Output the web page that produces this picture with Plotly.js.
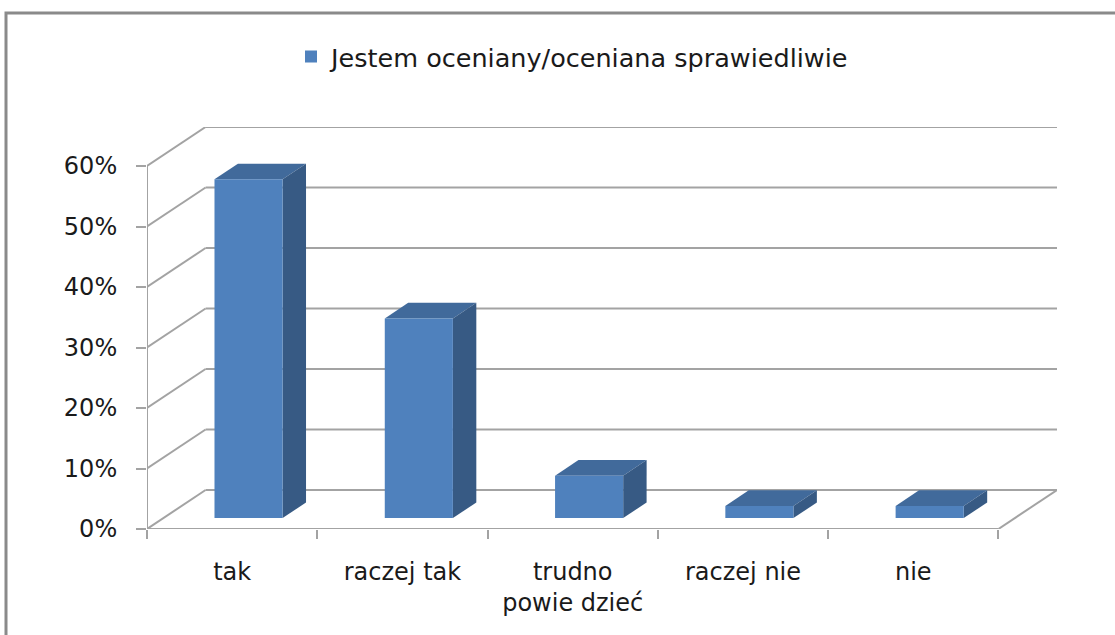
<!DOCTYPE html>
<html>
<head>
<meta charset="utf-8">
<script src="https://cdn.plot.ly/plotly-3.0.1.min.js"></script>
<style>html,body{margin:0;padding:0;background:#fff;}#chart{width:1115px;height:635px;}</style>
</head>
<body>
<div id="chart"></div>
<script>
// ---- data ----
const categories = ['tak', 'raczej tak', 'trudno<br>powie dzieć', 'raczej nie', 'nie'];
const values = [56, 33, 7, 2, 2];
const yTickValues = [0, 10, 20, 30, 40, 50, 60];
const yTickLabels = ['0%', '10%', '20%', '30%', '40%', '50%', '60%'];
const seriesName = 'Jestem oceniany/oceniana sprawiedliwie';

// ---- 3D look parameters (in axis units) ----
const WALL_DX = 0.344;   // depth of floor along x (category units)
const WALL_DY = 6.45;    // depth of floor along y (percent units)
const FRONT = 0.28;      // fraction of depth where bar front face sits
const BAR_DEPTH = 0.4;   // fraction of depth taken by the bar
const BAR_W = 0.4;       // bar width in category units
const Y_MAX = 60;

const n = categories.length;
const xRange = [-0.5, n - 0.5 + WALL_DX];
const yRange = [0, Y_MAX + WALL_DY];
const x2Range = [xRange[0] - FRONT * WALL_DX, xRange[1] - FRONT * WALL_DX];
const y2Range = [yRange[0] - FRONT * WALL_DY, yRange[1] - FRONT * WALL_DY];

const gridColor = '#a3a3a3';
const shapes = [];
// back-wall gridlines and left-wall diagonals
yTickValues.forEach(v => {
  shapes.push({type: 'line', xref: 'x', yref: 'y', layer: 'below',
    x0: -0.5 + WALL_DX, x1: n - 0.5 + WALL_DX, y0: v + WALL_DY, y1: v + WALL_DY,
    line: {color: gridColor, width: 2}});
  shapes.push({type: 'line', xref: 'x', yref: 'y', layer: 'below',
    x0: -0.5, x1: -0.5 + WALL_DX, y0: v, y1: v + WALL_DY,
    line: {color: gridColor, width: 2}});
});
// front value axis line
shapes.push({type: 'line', xref: 'x', yref: 'y', layer: 'below',
  x0: -0.5, x1: -0.5, y0: 0, y1: Y_MAX, line: {color: gridColor, width: 2}});
// floor front edge and right diagonal
shapes.push({type: 'line', xref: 'x', yref: 'y', layer: 'below',
  x0: -0.5, x1: n - 0.5, y0: 0, y1: 0, line: {color: gridColor, width: 2}});
shapes.push({type: 'line', xref: 'x', yref: 'y', layer: 'below',
  x0: n - 0.5, x1: n - 0.5 + WALL_DX, y0: 0, y1: WALL_DY, line: {color: gridColor, width: 2}});

// bar top and side faces
const bdx = BAR_DEPTH * WALL_DX, bdy = BAR_DEPTH * WALL_DY;
values.forEach((v, i) => {
  const l = i - BAR_W / 2, r = i + BAR_W / 2;
  shapes.push({type: 'path', xref: 'x2', yref: 'y2', layer: 'below',
    path: `M${l},${v} L${l + bdx},${v + bdy} L${r + bdx},${v + bdy} L${r},${v} Z`,
    fillcolor: '#416a9b', line: {width: 0}});
  shapes.push({type: 'path', xref: 'x2', yref: 'y2', layer: 'below',
    path: `M${r},0 L${r},${v} L${r + bdx},${v + bdy} L${r + bdx},${bdy} Z`,
    fillcolor: '#375a84', line: {width: 0}});
});

// chart outer frame (top and left edges visible)
const plotW = 1115 - 147 - 58, plotH = 635 - 127 - 106;
const px = p => (p - 147) / plotW;
const py = p => (635 - 106 - p) / plotH;
shapes.push({type: 'path', xref: 'paper', yref: 'paper', layer: 'above',
  path: `M${px(6)},${py(640)} L${px(6)},${py(13)} L${px(1120)},${py(13)}`,
  line: {color: '#8a8a8a', width: 3}});

const font = 'DejaVu Sans, sans-serif';
const trace = {
  type: 'bar', name: seriesName, showlegend: true,
  x: categories.map((c, i) => i), y: values, width: BAR_W,
  xaxis: 'x2', yaxis: 'y2',
  marker: {color: '#4f81bd', line: {width: 0}},
  hovertext: categories, hoverinfo: 'text+y'
};

const layout = {
  width: 1115, height: 635, autosize: false,
  margin: {l: 147, r: 58, t: 127, b: 106, pad: 0},
  paper_bgcolor: '#ffffff', plot_bgcolor: 'rgba(0,0,0,0)',
  font: {family: font, size: 24, color: '#1a1a1a'},
  showlegend: true,
  legend: {orientation: 'h', x: px(573), xanchor: 'center', y: py(57), yanchor: 'middle',
    font: {family: font, size: 25.5, color: '#1a1a1a'}, bgcolor: 'rgba(0,0,0,0)'},
  xaxis: {type: 'linear', range: xRange, showgrid: false, zeroline: false, showline: false,
    tickmode: 'array', tickvals: categories.map((c, i) => i), ticktext: categories, ticks: '',
    minor: {tickmode: 'linear', tick0: -0.5, dtick: 1, ticks: 'outside', ticklen: 9,
      tickwidth: 2, tickcolor: gridColor, showgrid: false},
    ticklabelstandoff: 26,
    tickfont: {family: font, size: 24, color: '#1a1a1a'}, fixedrange: true},
  yaxis: {type: 'linear', range: yRange, showgrid: false, zeroline: false, showline: false,
    tickmode: 'array', tickvals: yTickValues, ticktext: yTickLabels,
    ticks: 'outside', ticklen: 10, tickwidth: 2, tickcolor: gridColor,
    ticklabelstandoff: 14,
    tickfont: {family: font, size: 24, color: '#1a1a1a'}, fixedrange: true},
  xaxis2: {type: 'linear', range: x2Range, overlaying: 'x', visible: false, fixedrange: true},
  yaxis2: {type: 'linear', range: y2Range, overlaying: 'y', visible: false, fixedrange: true},
  shapes: shapes
};

Plotly.newPlot('chart', [trace], layout, {displayModeBar: false, staticPlot: true});
</script>
</body>
</html>
